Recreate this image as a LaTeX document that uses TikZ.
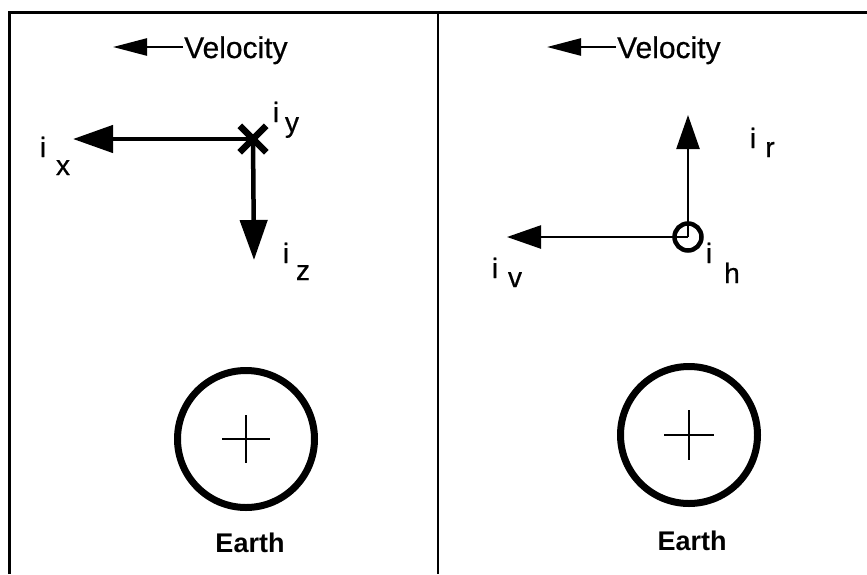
\documentclass[tikz,border=0pt]{standalone}
\usepackage{fontspec}
\setmainfont{Liberation Sans}
\newfontfamily\medsans[FakeBold=0.6]{Liberation Sans}
\usetikzlibrary{arrows.meta,shapes.misc}
\begin{document}
\begin{tikzpicture}[x=1pt,y=-1pt,
  lab/.style={font=\medsans\fontsize{28}{28}\selectfont, inner sep=0pt, anchor=base},
  vel/.style={font=\medsans\fontsize{30}{30}\selectfont, inner sep=0pt, anchor=base west},
  earthlbl/.style={font=\fontsize{27}{27}\selectfont\bfseries, inner sep=0pt, anchor=base},
  frame/.style={line width=3pt},
  velarrow/.style={line width=2.5pt, -{Triangle[length=34pt,width=17pt]}},
  thickvec/.style={line width=4.5pt, -{Triangle[length=40pt,width=27pt]}},
  thinvec/.style={line width=2.5pt, -{Triangle[length=34pt,width=23pt]}},
  earth/.style={circle, draw, line width=7pt, minimum size=137pt, inner sep=0pt},
  crossmark/.style={cross out, draw, line width=6.5pt, minimum size=20pt, inner sep=0pt},
  dotmark/.style={circle, draw, line width=4.5pt, minimum size=27pt, inner sep=0pt},
  ]
\useasboundingbox (0,0) rectangle (867,574);
% frame
\coordinate (tl) at (9,12);
\coordinate (tr) at (867,12);
\coordinate (bl) at (9,574);
\coordinate (tm) at (438,12);
\coordinate (bm) at (438,574);
\draw[frame] (bl) -- (tl) -- (tr);
\draw[line width=2.5pt] (tm) -- (bm);

% velocity labels
\node[vel] (v1) at (184,58) {Velocity};
\coordinate (v1t) at (113,47);
\draw[velarrow] ([xshift=-1pt,yshift=11pt]v1.base west) -- (v1t);
\node[vel] (v2) at (617,58) {Velocity};
\coordinate (v2t) at (547,47);
\draw[velarrow] ([xshift=-1pt,yshift=11pt]v2.base west) -- (v2t);

% left frame vectors
\node[crossmark] (xm) at (253,139) {};
\coordinate (ixt) at (73,139);
\coordinate (izt) at (254,260);
\draw[thickvec] (xm.center) -- (ixt);
\draw[thickvec] (xm.center) -- (izt);
\node[lab] (ixi) at (43,157) {i};
\node[lab] (ixs) at (63,175) {x};
\node[lab] (iyi) at (276,122) {i};
\node[lab] (iys) at (292,132) {y};
\node[lab] (izi) at (286,263) {i};
\node[lab] (izs) at (303,280) {z};

% right frame vectors
\node[dotmark] (ih) at (688,237) {};
\coordinate (irt) at (688,115);
\coordinate (ivt) at (507,237);
\draw[thinvec] (ih.center) -- (irt);
\draw[thinvec] (ih.center) -- (ivt);
\node[lab] (iri) at (753,148) {i};
\node[lab] (irs) at (770,157) {r};
\node[lab] (ivi) at (495,278) {i};
\node[lab] (ivs) at (515,287) {v};
\node[lab] (ihi) at (709,263) {i};
\node[lab] (ihs) at (732,283) {h};

% Earths
\node[earth] (e1) at (246,439) {};
\draw[line width=2pt] (e1.center) +(-24,0) -- +(24,0) +(0,-24) -- +(0,24);
\node[earthlbl] (e1l) at (250,552) {Earth};
\node[earth] (e2) at (689,435) {};
\draw[line width=2pt] (e2.center) +(-25,0) -- +(25,0) +(0,-25) -- +(0,25);
\node[earthlbl] (e2l) at (692,550) {Earth};
\end{tikzpicture}
\end{document}
